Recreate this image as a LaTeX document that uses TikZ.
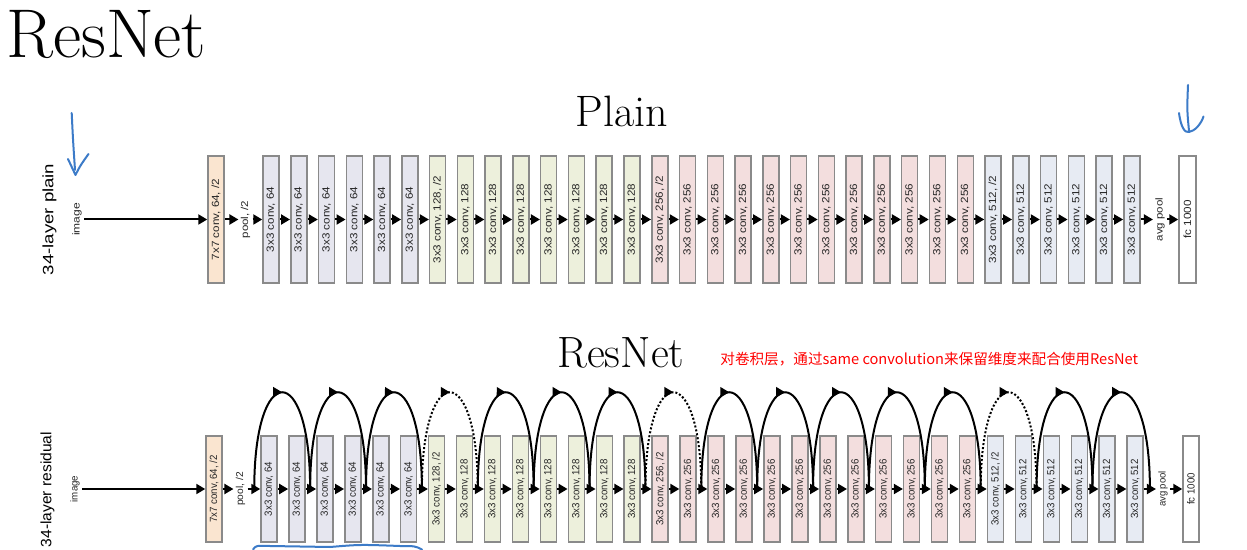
\documentclass[tikz,border=0pt]{standalone}
\usepackage{fontspec}
\usepackage{graphicx}
\setsansfont{Liberation Sans}
\newfontfamily\cjkfont{Noto Sans CJK SC}
\usetikzlibrary{arrows.meta,decorations.markings,calc}
\definecolor{cseven}{HTML}{FAE5D0}
\definecolor{csixfour}{HTML}{E6E6EF}
\definecolor{conetwo}{HTML}{EDF0DC}
\definecolor{ctwofive}{HTML}{F3DEDE}
\definecolor{cfiveone}{HTML}{E7EBF3}
\definecolor{edgegray}{HTML}{8A8A8A}
\definecolor{annoblue}{HTML}{3C7BC8}
\definecolor{labgray}{HTML}{262626}
\newcommand\vlab[2]{\rotatebox{90}{\scalebox{#1}[1]{#2}}}
\tikzset{
  cbox/.style={draw=edgegray, line width=0.75pt, minimum width=8pt, inner sep=0pt,
    text=labgray, font=\sffamily\fontsize{5.2}{6}\selectfont},
  prow/.style={minimum height=63.5pt},
  rrow/.style={minimum height=53pt},
  lab/.style={inner sep=1pt, text=labgray, font=\sffamily\fontsize{5}{6}\selectfont},
  flow/.style={-{Triangle[length=4.5pt,width=5pt]}, line width=1pt},
  skiparc/.style={line width=1pt, postaction={decorate},
    decoration={markings, mark=at position 0.5 with {\arrow{Triangle[length=4.5pt,width=5pt]}}}},
  dskiparc/.style={skiparc, dash pattern=on 1pt off 1pt},
  anno/.style={draw=annoblue, line width=1pt, line cap=round, line join=round}
}
\begin{document}
\begin{tikzpicture}[x=0.5pt,y=-0.5pt]
\fill[white] (0,0) rectangle (1247,550);
\useasboundingbox (0,0) rectangle (1247,550);

% titles
\node[anchor=base west, inner sep=0pt, font=\fontsize{34.5}{35}\selectfont] (title) at (6,58) {ResNet};
\node[anchor=base west, inner sep=0pt, font=\fontsize{22}{22}\selectfont] (plainT) at (575,127) {Plain};
\node[anchor=base west, inner sep=0pt, font=\fontsize{21.9}{22}\selectfont] (resT) at (557,368) {ResNet};
\node[anchor=base west, inner sep=0pt, text=red, font=\cjkfont\fontsize{7.3}{8}\selectfont] (note) at (720,365) {对卷积层，通过same convolution来保留维度来配合使用ResNet};

% ---------- plain row ----------
\node[inner sep=0pt, font=\sffamily\fontsize{7.5}{8}\selectfont] (plainlab) at (49.5,219.5) {\vlab{1.24}{34-layer plain}};
\node[lab] (pimg) at (77,219.5) {\vlab{1.2}{image}};
\node[cbox,prow,fill=cseven] (pseven) at (216,219.5) {\vlab{1.12}{7x7 conv, 64, /2}};
\node[lab] (ppool) at (245.5,219.5) {\vlab{1.15}{pool, /2}};
\foreach \i in {0,...,31}{
  \pgfmathsetmacro\px{271+27.77*\i}
  \ifnum\i<6 \def\cc{csixfour}\def\nn{64}\else\ifnum\i<14 \def\cc{conetwo}\def\nn{128}\else\ifnum\i<26 \def\cc{ctwofive}\def\nn{256}\else\def\cc{cfiveone}\def\nn{512}\fi\fi\fi
  \def\sfx{}
  \ifnum\i=6 \def\sfx{, /2}\fi
  \ifnum\i=14 \def\sfx{, /2}\fi
  \ifnum\i=26 \def\sfx{, /2}\fi
  \node[cbox,prow,fill=\cc] (p\i) at (\px,219.5) {\vlab{1.12}{3x3 conv, \nn\sfx}};
}
\node[lab] (pavg) at (1160,219.5) {\vlab{1.15}{avg pool}};
\node[cbox,prow,fill=white,minimum width=8.5pt] (pfc) at (1187.5,219.5) {\vlab{1.12}{fc 1000}};

\draw[flow] (pimg.east) -- (pseven.west);
\draw[flow] (pseven.east) -- (ppool.west);
\draw[flow] (ppool.east) -- (p0.west);
\foreach \i in {0,...,30}{
  \pgfmathtruncatemacro\j{\i+1}
  \draw[flow] (p\i.east) -- (p\j.west);
}
\draw[flow] (p31.east) -- (pavg.west);
\draw[flow] (pavg.east) -- (pfc.west);

% ---------- residual row ----------
\node[inner sep=0pt, font=\sffamily\fontsize{7.5}{8}\selectfont] (reslab) at (47.5,489.5) {\vlab{1.04}{34-layer residual}};
\node[lab] (rimg) at (75,489) {\vlab{0.97}{image}};
\node[cbox,rrow,fill=cseven] (rseven) at (214,489) {\vlab{0.93}{7x7 conv, 64, /2}};
\node[lab] (rpool) at (240.5,489) {\vlab{1.02}{pool, /2}};
\foreach \i in {0,...,31}{
  \pgfmathsetmacro\px{269+27.94*\i}
  \ifnum\i<6 \def\cc{csixfour}\def\nn{64}\else\ifnum\i<14 \def\cc{conetwo}\def\nn{128}\else\ifnum\i<26 \def\cc{ctwofive}\def\nn{256}\else\def\cc{cfiveone}\def\nn{512}\fi\fi\fi
  \def\sfx{}
  \ifnum\i=6 \def\sfx{, /2}\fi
  \ifnum\i=14 \def\sfx{, /2}\fi
  \ifnum\i=26 \def\sfx{, /2}\fi
  \node[cbox,rrow,fill=\cc] (r\i) at (\px,489) {\vlab{0.93}{3x3 conv, \nn\sfx}};
}
\node[lab] (ravg) at (1163,489) {\vlab{0.95}{avg pool}};
\node[cbox,rrow,fill=white] (rfc) at (1191,489) {\vlab{0.93}{fc 1000}};

\draw[flow] (rimg.east) -- (rseven.west);
\draw[flow] (rseven.east) -- (rpool.west);
\draw[flow] (rpool.east) -- (r0.west);
\foreach \i in {0,...,30}{
  \pgfmathtruncatemacro\j{\i+1}
  \draw[flow] (r\i.east) -- (r\j.west);
}
\draw[flow] (r31.east) -- (ravg.west);
\draw[flow] (ravg.east) -- (rfc.west);

% skip connections
\foreach \k in {0,...,15}{
  \pgfmathtruncatemacro\a{2*\k}
  \coordinate (s\k) at ($(r\a.west)+(-6,0)$);
}
\coordinate (s16) at ($(r31.east)+(6,0)$);
\foreach \k in {0,...,15}{
  \pgfmathtruncatemacro\m{\k+1}
  \def\st{skiparc}
  \ifnum\k=3 \def\st{dskiparc}\fi
  \ifnum\k=7 \def\st{dskiparc}\fi
  \ifnum\k=13 \def\st{dskiparc}\fi
  \draw[\st] (s\k) .. controls ($(s\k)+(0,-129)$) and ($(s\m)+(0,-129)$) .. (s\m);
}

% hand-drawn blue annotations
\draw[anno] (71.7,113) .. controls (73,140) .. (75,170);
\draw[anno] (68,159) .. controls (71,167) .. (75.5,175) .. controls (80,166) .. (88.5,154);
\draw[anno] (1188,85) .. controls (1187,110) .. (1189,131);
\draw[anno] (1179,113) .. controls (1181,128) and (1185,133) .. (1189,132) .. controls (1195,131) and (1201,124) .. (1203.5,116.5);
\draw[anno] (253,549.5) .. controls (256,545.5) .. (270,546) -- (330,547) .. controls (360,544.5) .. (400,546) .. controls (415,546) .. (422,549.5);
\end{tikzpicture}
\end{document}
